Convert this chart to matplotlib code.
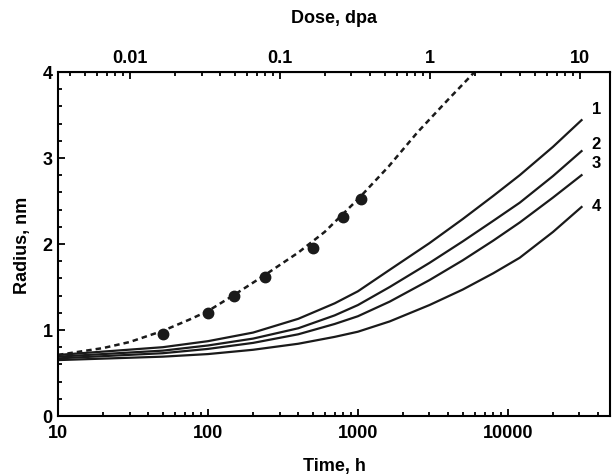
import numpy as np
import matplotlib.pyplot as plt
from matplotlib.ticker import LogLocator, MultipleLocator, NullFormatter, FixedLocator, FixedFormatter

plt.rcParams['font.family'] = ['Liberation Sans', 'DejaVu Sans']
plt.rcParams['font.weight'] = 'bold'

# данные
t_curve = [10, 50, 100, 200, 400, 700, 1000, 1630, 3000, 5000, 8000, 12000, 20000, 31000]
r1 = [0.71, 0.80, 0.87, 0.97, 1.13, 1.31, 1.45, 1.70, 2.01, 2.29, 2.56, 2.80, 3.13, 3.44]
r2 = [0.69, 0.76, 0.82, 0.90, 1.02, 1.17, 1.29, 1.50, 1.78, 2.03, 2.27, 2.48, 2.79, 3.08]
r3 = [0.67, 0.73, 0.78, 0.85, 0.95, 1.07, 1.16, 1.33, 1.58, 1.81, 2.04, 2.25, 2.54, 2.80]
r4 = [0.65, 0.69, 0.72, 0.77, 0.84, 0.92, 0.98, 1.10, 1.29, 1.47, 1.66, 1.84, 2.14, 2.43]

t_dash = [10, 20, 30, 50, 75, 100, 150, 240, 400, 600, 1000, 1600, 2500, 4000, 6000, 7000]
r_dash = [0.71, 0.79, 0.86, 0.99, 1.12, 1.22, 1.41, 1.64, 1.90, 2.14, 2.52, 2.90, 3.30, 3.68, 4.00, 4.15]

t_exp = [50, 100, 150, 240, 500, 800, 1050]
r_exp = [0.95, 1.20, 1.40, 1.62, 1.95, 2.31, 2.52]

curve_labels = ['1', '2', '3', '4']
label_y = [3.57, 3.17, 2.95, 2.45]

dpa_per_h = 1 / 3020.0  # пересчёт времени в дозу

fig = plt.figure(figsize=(6.14, 4.77), dpi=100)
ax = fig.add_axes([0.0945, 0.1258, 0.899, 0.7212])

for r in (r1, r2, r3, r4):
    ax.plot(t_curve, r, color='#1a1a1a', linewidth=1.6)
ax.plot(t_dash, r_dash, color='#1a1a1a', linewidth=1.8, linestyle=(0, (2.2, 1.6)))
ax.plot(t_exp, r_exp, 'o', color='#1a1a1a', markersize=7.5)

for lab, y in zip(curve_labels, label_y):
    ax.text(3.9e4, y, lab, ha='center', va='center', fontsize=12, fontweight='bold')

ax.set_xscale('log')
ax.set_xlim(10, 48000)
ax.set_ylim(0, 4)
ax.xaxis.set_major_locator(FixedLocator([10, 100, 1000, 10000]))
ax.xaxis.set_major_formatter(FixedFormatter(['10', '100', '1000', '10000']))
ax.xaxis.set_minor_locator(LogLocator(base=10, subs=np.arange(2, 10)))
ax.xaxis.set_minor_formatter(NullFormatter())
ax.yaxis.set_major_locator(MultipleLocator(1))
ax.yaxis.set_minor_locator(MultipleLocator(0.2))
ax.tick_params(which='both', direction='in', top=False, right=False, labelsize=13, width=1.3)
ax.tick_params(which='major', length=5)
ax.tick_params(which='minor', length=3)
ax.tick_params(axis='x', which='major', pad=6)
ax.tick_params(axis='y', which='major', pad=4)
for s in ax.spines.values():
    s.set_linewidth(1.5)

ax.set_xlabel('Time, h', fontsize=13, fontweight='bold', labelpad=11)
ax.set_ylabel('Radius, nm', fontsize=13, fontweight='bold', labelpad=8)

sec = ax.secondary_xaxis('top', functions=(lambda t: t * dpa_per_h, lambda d: d / dpa_per_h))
sec.xaxis.set_major_locator(FixedLocator([0.01, 0.1, 1, 10]))
sec.xaxis.set_major_formatter(FixedFormatter(['0.01', '0.1', '1', '10']))
sec.xaxis.set_minor_locator(LogLocator(base=10, subs=np.arange(2, 10)))
sec.xaxis.set_minor_formatter(NullFormatter())
sec.tick_params(which='both', direction='in', labelsize=13, width=1.3)
sec.tick_params(which='major', length=5, pad=4)
sec.tick_params(which='minor', length=3)
sec.set_xlabel('Dose, dpa', fontsize=13, fontweight='bold', labelpad=20)

for lab in ax.get_xticklabels() + ax.get_yticklabels() + sec.get_xticklabels():
    lab.set_fontweight('bold')

fig.savefig('out.png', dpi=100)
